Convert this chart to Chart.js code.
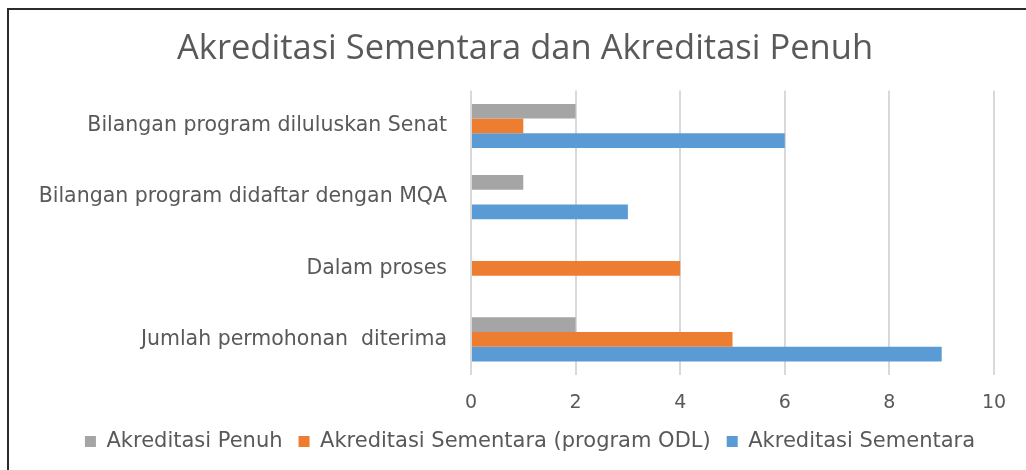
<!DOCTYPE html>
<html lang="ms">
<head>
    <meta charset="UTF-8">
    <title>Akreditasi Sementara dan Akreditasi Penuh</title>
    <style>
        html, body { margin: 0; padding: 0; background: #fff; }
        .wrap { position: relative; width: 1026px; height: 470px; overflow: hidden; }
        .frame { position: absolute; left: 7px; top: 8px; width: 1100px; height: 600px; border: 2px solid #2b2b2b; box-sizing: border-box; pointer-events: none; }
    </style>
</head>
<body>
    <div class="wrap">
        <canvas id="chart" width="1026" height="470"></canvas>
        <div class="frame"></div>
    </div>

    <script src="https://cdn.jsdelivr.net/npm/chart.js"></script>
    <script>
        // categories, top to bottom
        const categories = [
            "Bilangan program diluluskan Senat",
            "Bilangan program didaftar dengan MQA",
            "Dalam proses",
            "Jumlah permohonan  diterima"
        ];
        const penuh = [2, 1, 0, 2];          // Akreditasi Penuh
        const sementaraOdl = [1, 0, 4, 5];   // Akreditasi Sementara (program ODL)
        const sementara = [6, 3, 0, 9];      // Akreditasi Sementara
        const xTicks = [0, 2, 4, 6, 8, 10];

        const textColor = "#595959";

        // title and legend sit a bit right of the canvas centre in the original
        const nudge = {
            id: 'nudge',
            afterLayout(chart) {
                if (chart.titleBlock) {
                    chart.titleBlock.left += 18;
                    chart.titleBlock.right += 18;
                }
                if (chart.legend) {
                    chart.legend.left += 23;
                    chart.legend.right += 23;
                }
            }
        };

        const ctx = document.getElementById('chart').getContext('2d');
        new Chart(ctx, {
            type: 'bar',
            data: {
                labels: categories,
                datasets: [
                    { label: "Akreditasi Penuh", data: penuh, backgroundColor: "#a5a5a5" },
                    { label: "Akreditasi Sementara (program ODL)", data: sementaraOdl, backgroundColor: "#ed7d31" },
                    { label: "Akreditasi Sementara", data: sementara, backgroundColor: "#5b9bd5" }
                ]
            },
            options: {
                indexAxis: 'y',
                responsive: false,
                animation: false,
                categoryPercentage: 0.62,
                barPercentage: 1,
                layout: { padding: { left: 20, right: 32, top: 28, bottom: 8 } },
                plugins: {
                    title: {
                        display: true,
                        text: "Akreditasi Sementara dan Akreditasi Penuh",
                        color: textColor,
                        font: { family: "Open Sans", size: 34.5, weight: 'normal' },
                        padding: { top: 0, bottom: 21 }
                    },
                    legend: {
                        position: 'bottom',
                        labels: {
                            color: textColor,
                            font: { family: "DejaVu Sans", size: 21 },
                            boxWidth: 11,
                            boxHeight: 11,
                            padding: 16
                        }
                    },
                    tooltip: { enabled: false }
                },
                scales: {
                    x: {
                        min: 0,
                        max: 10,
                        afterBuildTicks: axis => { axis.ticks = xTicks.map(v => ({ value: v })); },
                        afterFit: axis => { axis.height = 40; },
                        grid: { color: "#d9d9d9", lineWidth: 2, drawTicks: false },
                        border: { display: false },
                        ticks: {
                            color: textColor,
                            font: { family: "DejaVu Sans", size: 19 },
                            padding: 17
                        }
                    },
                    y: {
                        afterFit: axis => { axis.width = 471 - 20; },
                        grid: { display: false, drawTicks: false },
                        border: { display: false },
                        ticks: {
                            color: textColor,
                            font: { family: "DejaVu Sans", size: 20.5 },
                            padding: 24
                        }
                    }
                }
            },
            plugins: [nudge]
        });
    </script>
</body>
</html>
